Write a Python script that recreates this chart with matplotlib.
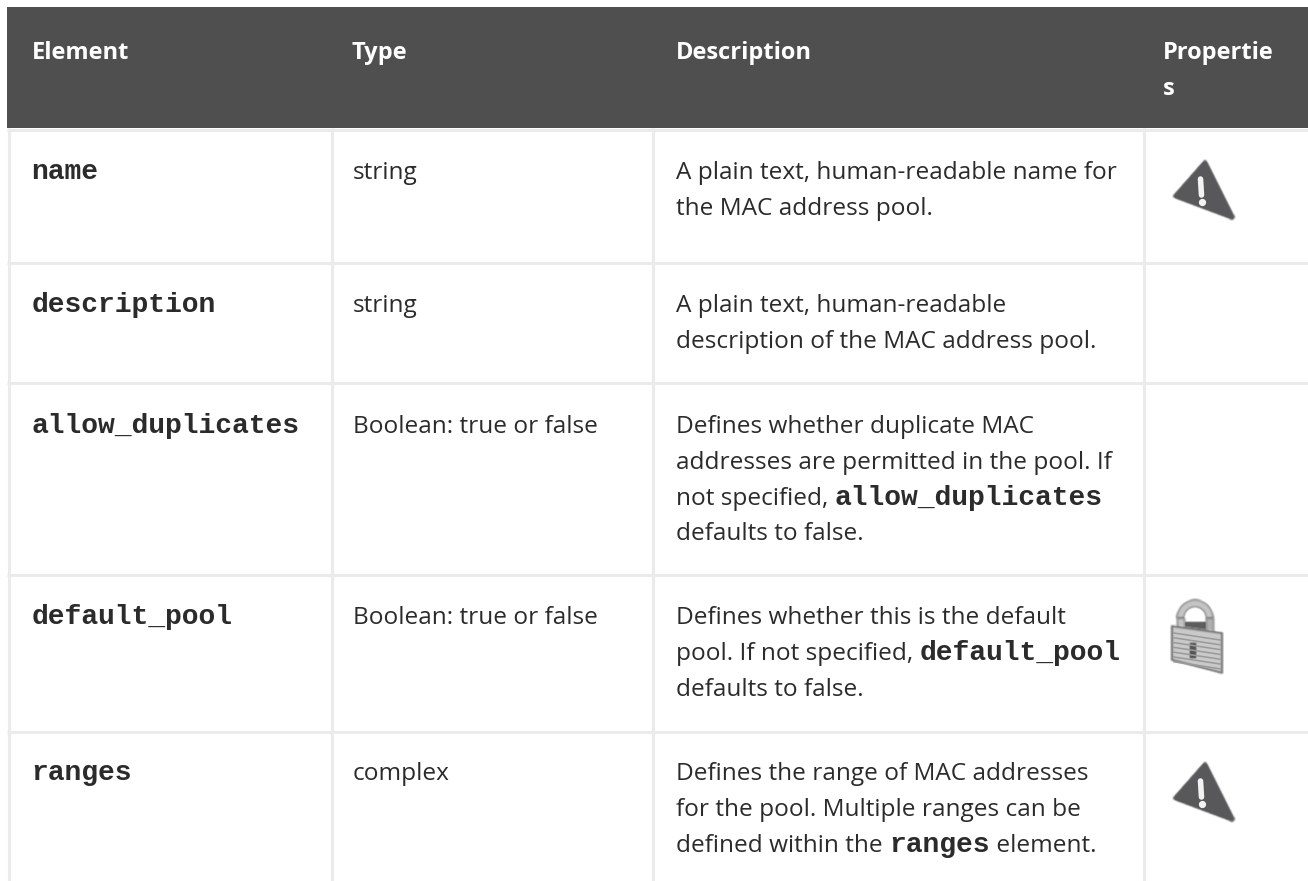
import numpy as np
import matplotlib
matplotlib.use("Agg")
import matplotlib.pyplot as plt
from matplotlib.patches import Polygon, Rectangle, Wedge

# Table contents
headers = ["Element", "Type", "Description", "Propertie\ns"]
elements = ["name", "description", "allow_duplicates", "default_pool", "ranges"]
types = ["string", "string", "Boolean: true or false", "Boolean: true or false", "complex"]
# description lines, (text, is_code) runs per line
descriptions = [
    [[("A plain text, human-readable name for", False)], [("the MAC address pool.", False)]],
    [[("A plain text, human-readable", False)], [("description of the MAC address pool.", False)]],
    [[("Defines whether duplicate MAC", False)],
     [("addresses are permitted in the pool. If", False)],
     [("not specified, ", False), ("allow_duplicates", True)],
     [("defaults to false.", False)]],
    [[("Defines whether this is the default", False)],
     [("pool. If not specified, ", False), ("default_pool", True)],
     [("defaults to false.", False)]],
    [[("Defines the range of MAC addresses", False)],
     [("for the pool. Multiple ranges can be", False)],
     [("defined within the ", False), ("ranges", True), (" element.", False)]],
]

# Layout in image pixels
W, H = 1308, 881
col_lines = [8.5, 331.5, 652.5, 1143.5]
row_lines = [129.5, 262.5, 382.5, 574.5, 731.5]
header_x = [32, 352, 676, 1163]
text_x = [31.5, 353, 676]
row_base = [179, 312, 433, 624, 780]
LINE = 35.8
BODY_FONT = "Open Sans"
DARK = "#2b2b2b"
GRID = "#ebebeb"
BODY_SIZE = 17.6
CODE_SIZE = 20.2

fig = plt.figure(figsize=(W / 100, H / 100), dpi=100)
ax = fig.add_axes([0, 0, 1, 1])
ax.set_xlim(0, W)
ax.set_ylim(H, 0)
ax.axis("off")

# header band
ax.add_patch(Rectangle((7, 7), W - 7, 121, color="#4f4f4f", lw=0))
for x, h in zip(header_x, headers):
    for i, part in enumerate(h.split("\n")):
        ax.text(x, 59 + i * 36, part, color="white", fontsize=17, fontweight="bold",
                family="Open Sans", va="baseline")

# grid
for y in row_lines:
    ax.plot([7, W], [y, y], color=GRID, lw=2.2, solid_capstyle="butt")
for x in col_lines:
    ax.plot([x, x], [128, H], color=GRID, lw=2.2, solid_capstyle="butt")


def draw_runs(x, y, runs):
    # put text runs one after another on the same baseline
    for txt, is_code in runs:
        if is_code:
            t = ax.text(x, y, txt, family="Liberation Mono", fontweight="bold",
                        fontsize=CODE_SIZE, color=DARK, va="baseline")
        else:
            t = ax.text(x, y, txt, family=BODY_FONT, fontsize=BODY_SIZE, color=DARK, va="baseline")
        bb = t.get_window_extent(fig.canvas.get_renderer())
        x = x + bb.width


def soften(image, dpi):
    # the icons are upscaled bitmaps in the original, so blur them a little
    pad = 3
    out = np.pad(image, ((pad, pad), (pad, pad), (0, 0)))
    kernel = np.array([1, 2, 1]) / 4
    for axis in (0, 1):
        out = np.apply_along_axis(lambda v: np.convolve(v, kernel, mode="same"), axis, out)
    return out, -pad, -pad


def icon(artist):
    artist.set_agg_filter(soften)
    return artist


def draw_warn(top):
    tri = [(1205, top + 3), (1232, top + 57), (1176, top + 36)]
    ax.add_patch(icon(Polygon(tri, closed=True, facecolor="#58585a", edgecolor="#58585a",
                              lw=4, joinstyle="round")))
    ax.plot([1200.5, 1201.5], [top + 19, top + 35], color="#f2f2f2", lw=4, solid_capstyle="round")
    ax.plot([1202], [top + 42], "o", color="#f2f2f2", ms=4.2)


def draw_lock(cx, top):
    # shackle
    ax.add_patch(icon(Rectangle((cx - 10, top + 22), 21, 14, color="#5e5e5e", lw=0)))
    ax.add_patch(icon(Wedge((cx, top + 18), 18, 180, 360, width=7, facecolor="#c4c4c4",
                            edgecolor="#8a8a8a", lw=1)))
    ax.add_patch(icon(Rectangle((cx - 18, top + 18), 7, 15, facecolor="#c4c4c4", edgecolor="#8a8a8a", lw=1)))
    ax.add_patch(icon(Rectangle((cx + 11, top + 18), 7, 19, facecolor="#b0b0b0", edgecolor="#8a8a8a", lw=1)))
    # body
    ax.add_patch(icon(Polygon([(cx - 23, top + 26), (cx + 27, top + 33), (cx + 27, top + 73),
                               (cx - 23, top + 60)], closed=True, facecolor="#c9c9c9",
                              edgecolor="#777777", lw=1.5, joinstyle="round")))
    for k in range(7):
        ax.plot([cx - 21, cx + 25], [top + 33 + k * 4.8, top + 40 + k * 4.8], color="#9a9a9a", lw=1.1)
    ax.add_patch(icon(Rectangle((cx - 5, top + 43), 6, 15, color="#555555", lw=0)))


for i, el in enumerate(elements):
    base = row_base[i]
    ax.text(text_x[0], base, el, family="Liberation Mono", fontweight="bold", fontsize=CODE_SIZE,
            color=DARK, va="baseline")
    ax.text(text_x[1], base, types[i], family=BODY_FONT, fontsize=BODY_SIZE, color=DARK, va="baseline")
    for j, runs in enumerate(descriptions[i]):
        draw_runs(text_x[2], base + j * LINE, runs)

draw_warn(160)
draw_lock(1195, 600)
draw_warn(762)

fig.savefig("out.png", dpi=100, facecolor="white")
